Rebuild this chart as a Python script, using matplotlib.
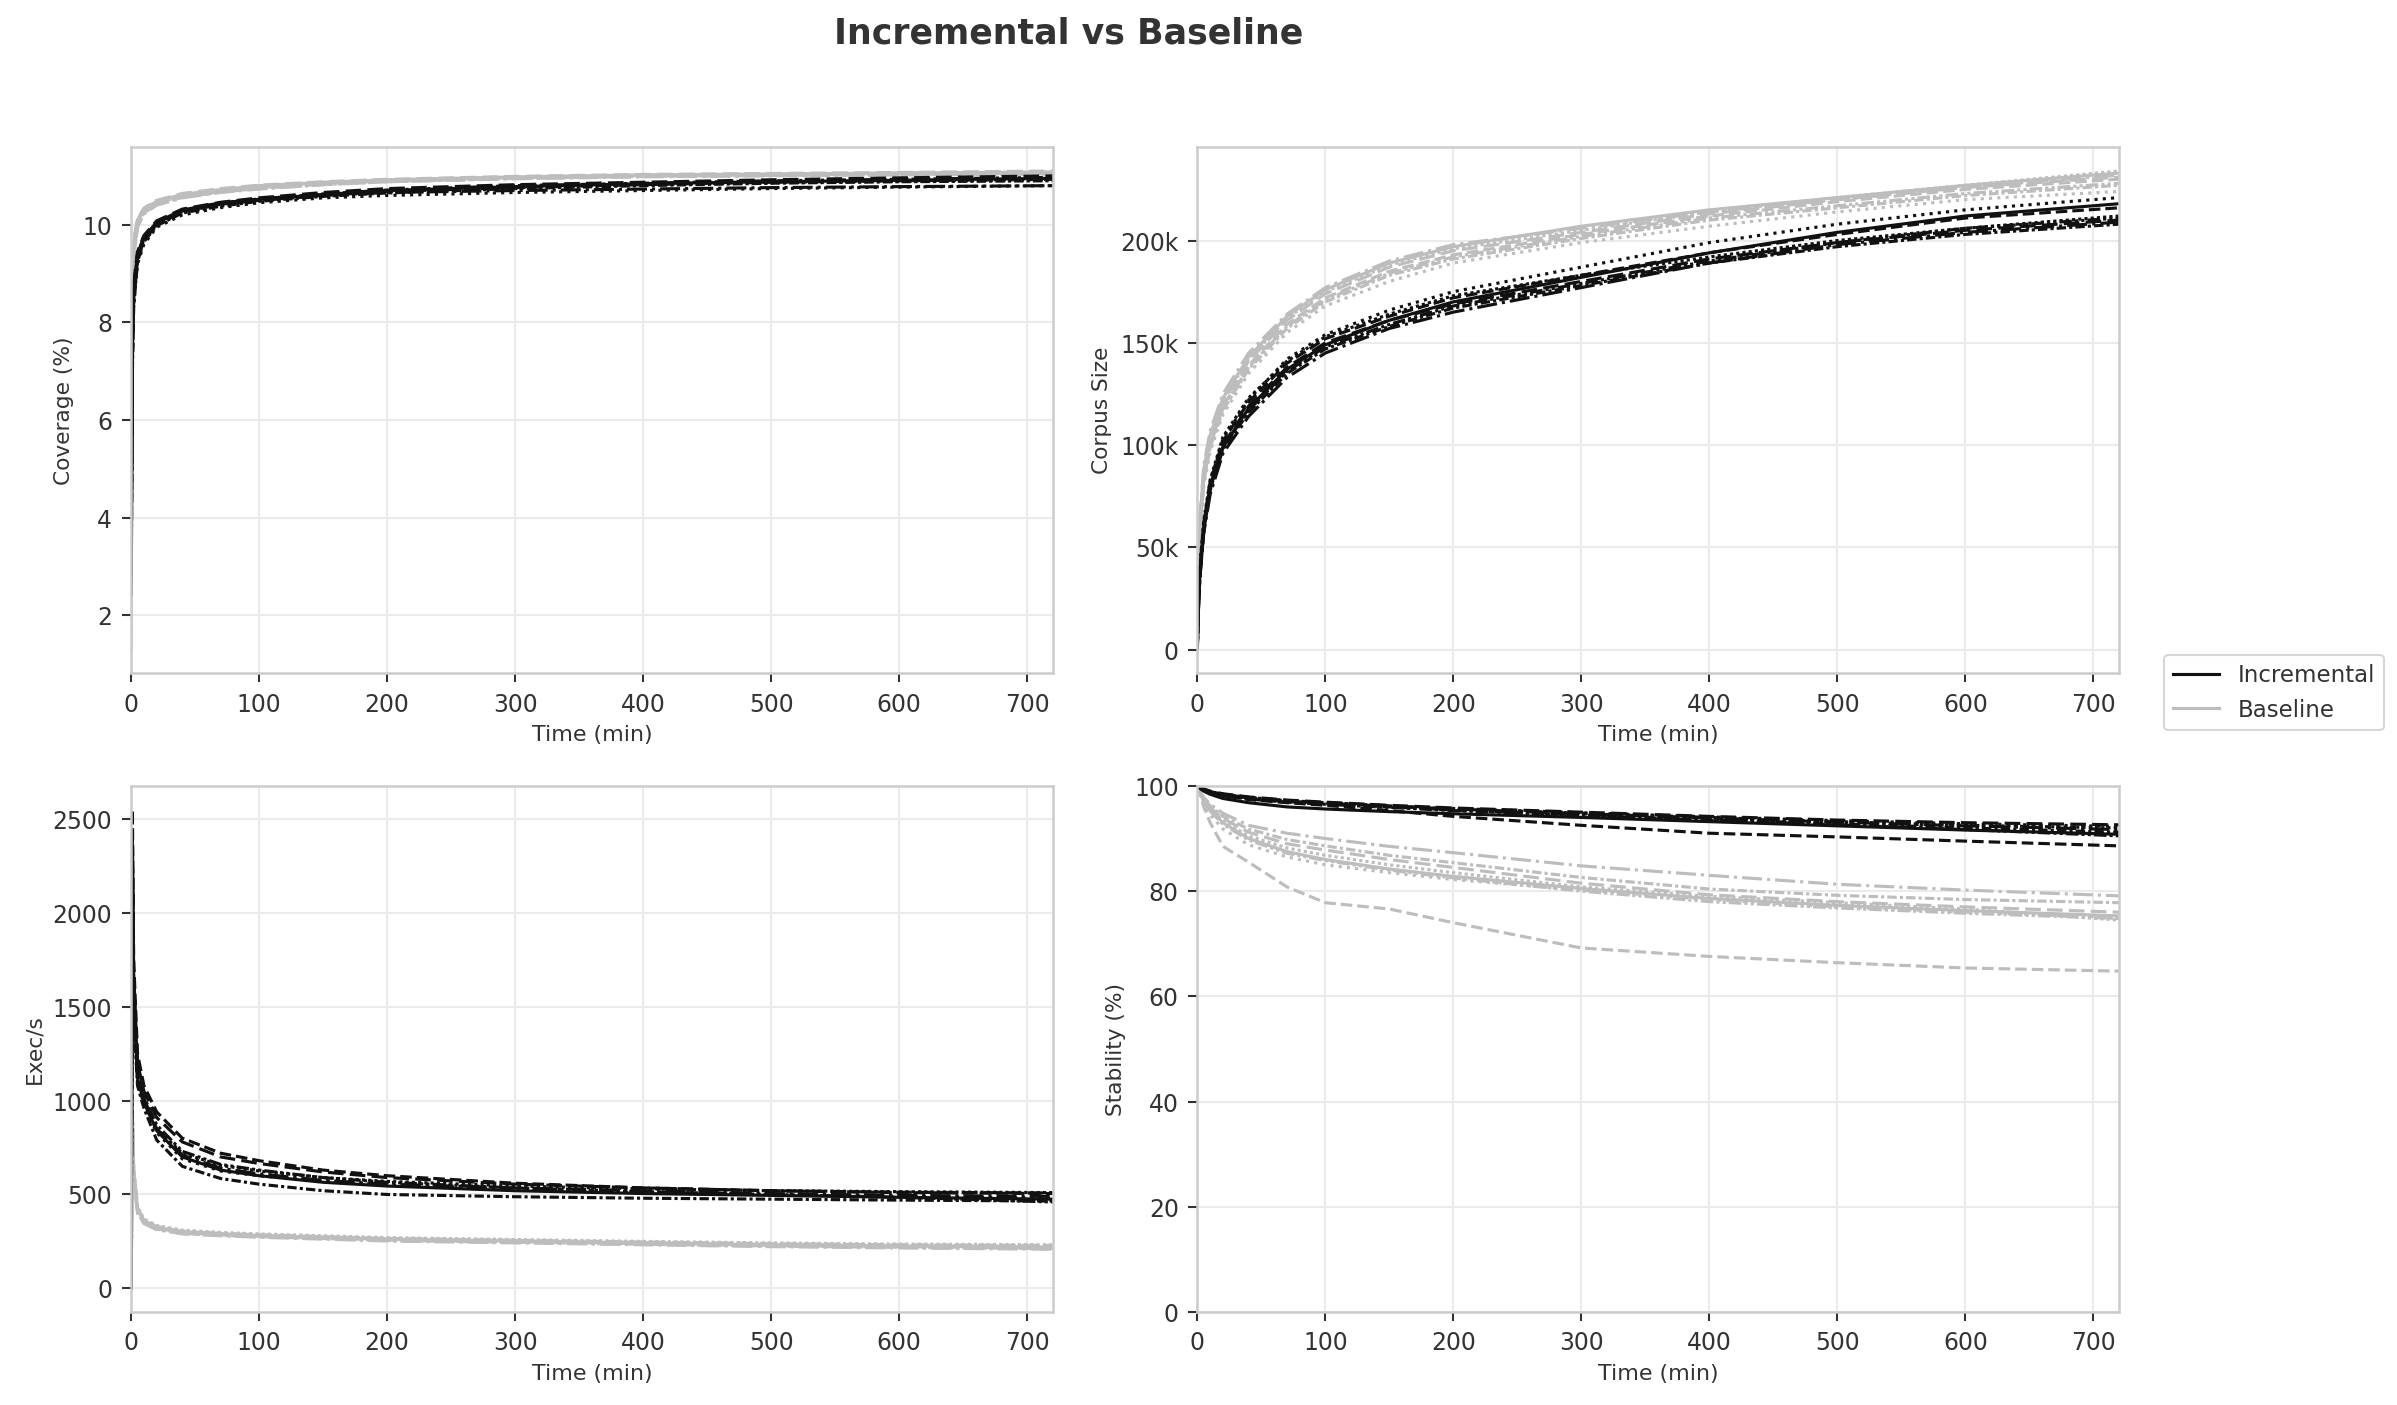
import matplotlib
matplotlib.use("Agg")
import matplotlib.pyplot as plt
from matplotlib.lines import Line2D
from matplotlib.ticker import FuncFormatter

# sample times (minutes)
times = [0, 1, 2, 5, 10, 20, 40, 70, 100, 150, 200, 300, 400, 500, 600, 720]

# Coverage (%) per run
cov_inc = [
    [3.2, 7.8, 8.7, 9.4, 9.75, 10.05, 10.3, 10.45, 10.52, 10.62, 10.7, 10.78, 10.84, 10.88, 10.91, 10.95],
    [2.6, 7.2, 8.5, 9.3, 9.68, 10.0, 10.26, 10.42, 10.5, 10.6, 10.68, 10.76, 10.82, 10.87, 10.9, 10.93],
    [3.8, 7.6, 8.4, 9.2, 9.6, 9.95, 10.2, 10.35, 10.45, 10.55, 10.6, 10.66, 10.7, 10.74, 10.77, 10.8],
    [2.9, 7.4, 8.6, 9.35, 9.72, 10.02, 10.28, 10.42, 10.5, 10.6, 10.66, 10.7, 10.73, 10.76, 10.78, 10.8],
    [3.4, 7.9, 8.8, 9.45, 9.78, 10.08, 10.32, 10.46, 10.55, 10.66, 10.74, 10.82, 10.87, 10.92, 10.96, 11.0],
    [2.4, 7.0, 8.3, 9.25, 9.65, 9.98, 10.24, 10.38, 10.48, 10.58, 10.65, 10.74, 10.8, 10.85, 10.88, 10.9],
    [3.6, 7.7, 8.6, 9.3, 9.7, 10.0, 10.27, 10.43, 10.51, 10.61, 10.69, 10.77, 10.83, 10.86, 10.89, 10.92],
    [2.8, 7.3, 8.5, 9.4, 9.74, 10.04, 10.29, 10.44, 10.53, 10.63, 10.71, 10.8, 10.85, 10.9, 10.93, 10.97],
]
cov_base = [
    [1.3, 8.9, 9.6, 10.1, 10.32, 10.48, 10.62, 10.72, 10.8, 10.87, 10.92, 10.98, 11.02, 11.04, 11.06, 11.08],
    [1.8, 8.6, 9.4, 10.0, 10.26, 10.42, 10.57, 10.68, 10.75, 10.83, 10.89, 10.95, 10.99, 11.01, 11.03, 11.05],
    [2.2, 9.0, 9.6, 10.08, 10.3, 10.46, 10.6, 10.7, 10.77, 10.85, 10.9, 10.96, 11.0, 11.03, 11.05, 11.07],
    [1.6, 8.5, 9.3, 9.95, 10.22, 10.4, 10.55, 10.66, 10.73, 10.82, 10.88, 10.94, 10.98, 11.0, 11.02, 11.04],
    [2.6, 9.1, 9.7, 10.12, 10.34, 10.5, 10.64, 10.74, 10.81, 10.88, 10.93, 10.99, 11.03, 11.05, 11.07, 11.1],
    [1.4, 8.7, 9.5, 10.04, 10.28, 10.44, 10.59, 10.69, 10.76, 10.84, 10.9, 10.96, 11.0, 11.02, 11.04, 11.06],
    [2.0, 8.8, 9.5, 10.06, 10.3, 10.46, 10.61, 10.71, 10.78, 10.86, 10.91, 10.97, 11.01, 11.03, 11.05, 11.07],
    [1.7, 8.4, 9.3, 9.98, 10.24, 10.41, 10.56, 10.67, 10.74, 10.82, 10.88, 10.95, 10.99, 11.01, 11.03, 11.05],
]

# Corpus size (thousands of entries)
corpus_inc = [
    [2, 24, 37, 58, 79, 99, 118, 137, 149, 161, 170, 182, 194, 204, 212, 218],
    [4, 27, 40, 62, 82, 102, 121, 140, 152, 163, 172, 183, 194, 203, 211, 216],
    [1, 26, 39, 61, 82, 103, 122, 142, 154, 166, 175, 187, 199, 208, 215, 221],
    [3, 22, 35, 57, 76, 96, 114, 133, 145, 157, 165, 177, 189, 198, 204, 209],
    [5, 25, 38, 60, 80, 100, 119, 138, 150, 161, 169, 180, 191, 199, 205, 210],
    [2, 23, 36, 58, 78, 98, 116, 135, 147, 158, 167, 178, 189, 197, 203, 208],
    [6, 28, 41, 63, 83, 104, 123, 141, 153, 164, 173, 183, 192, 200, 206, 212],
    [0, 24, 37, 59, 79, 99, 117, 136, 148, 159, 168, 179, 190, 199, 206, 211],
]
corpus_base = [
    [12, 48, 63, 88, 105, 123, 143, 163, 176, 189, 197, 207, 215, 221, 227, 233],
    [8, 44, 59, 84, 101, 119, 139, 159, 172, 185, 193, 203, 212, 219, 225, 230],
    [6, 40, 55, 80, 97, 115, 135, 155, 168, 180, 189, 199, 207, 214, 220, 224],
    [14, 50, 65, 90, 107, 125, 145, 164, 177, 190, 198, 206, 214, 220, 226, 232],
    [10, 46, 61, 86, 103, 121, 141, 161, 174, 187, 195, 204, 213, 220, 226, 231],
    [9, 42, 57, 82, 99, 117, 137, 157, 170, 183, 191, 201, 210, 216, 222, 227],
    [11, 47, 62, 87, 104, 122, 142, 162, 175, 188, 196, 205, 214, 221, 227, 234],
    [7, 43, 58, 83, 100, 118, 138, 158, 171, 184, 192, 202, 211, 217, 223, 228],
]

# Exec/s
execs_inc = [
    [0, 2300, 1550, 1120, 990, 840, 700, 630, 600, 565, 545, 520, 505, 495, 485, 475],
    [0, 2550, 1750, 1250, 1080, 940, 800, 720, 680, 630, 600, 560, 535, 520, 510, 505],
    [0, 2100, 1500, 1100, 980, 830, 690, 625, 600, 570, 550, 525, 510, 500, 490, 480],
    [0, 2200, 1600, 1150, 1010, 850, 710, 640, 610, 575, 555, 535, 520, 505, 495, 490],
    [0, 2400, 1680, 1200, 1050, 910, 780, 700, 665, 620, 590, 555, 535, 520, 512, 508],
    [0, 2000, 1450, 1080, 960, 790, 650, 585, 555, 520, 500, 488, 480, 475, 470, 465],
    [0, 2250, 1580, 1140, 1000, 850, 720, 655, 625, 590, 570, 545, 530, 520, 515, 510],
    [0, 2350, 1620, 1160, 1020, 870, 730, 660, 630, 590, 565, 535, 515, 500, 485, 460],
]
execs_base = [
    [0, 900, 620, 420, 360, 325, 300, 290, 282, 272, 262, 252, 242, 232, 226, 220],
    [0, 850, 600, 410, 350, 318, 295, 285, 278, 268, 258, 248, 238, 228, 222, 215],
    [0, 950, 640, 430, 365, 330, 305, 294, 286, 275, 265, 255, 245, 236, 230, 225],
    [0, 800, 580, 400, 345, 312, 290, 280, 272, 262, 252, 242, 232, 222, 215, 208],
    [0, 920, 630, 425, 362, 328, 303, 292, 285, 275, 266, 256, 247, 238, 232, 228],
    [0, 870, 610, 415, 355, 320, 297, 287, 280, 270, 260, 250, 240, 230, 224, 218],
    [0, 960, 650, 435, 370, 335, 310, 298, 290, 280, 270, 260, 250, 242, 236, 232],
    [0, 830, 590, 405, 348, 315, 292, 282, 275, 265, 255, 245, 235, 225, 218, 212],
]

# Stability (%)
stab_inc = [
    [100, 99.8, 99.5, 99.0, 98.4, 97.6, 96.8, 96.0, 95.6, 95.1, 94.7, 94.0, 93.2, 92.4, 91.6, 90.8],
    [100, 99.8, 99.6, 99.2, 98.8, 98.2, 97.4, 96.8, 96.3, 95.3, 94.2, 92.5, 91.0, 90.3, 89.5, 88.6],
    [100, 99.9, 99.7, 99.3, 98.9, 98.4, 97.8, 97.2, 96.8, 96.2, 95.7, 94.9, 94.1, 93.4, 92.8, 92.3],
    [100, 99.9, 99.7, 99.3, 98.9, 98.3, 97.7, 97.1, 96.7, 96.1, 95.6, 94.7, 93.9, 93.1, 92.4, 91.7],
    [100, 99.9, 99.8, 99.4, 99.0, 98.5, 97.9, 97.3, 96.9, 96.3, 95.8, 95.0, 94.2, 93.5, 93.0, 92.6],
    [100, 99.9, 99.7, 99.2, 98.8, 98.2, 97.6, 97.0, 96.6, 96.0, 95.4, 94.5, 93.6, 92.8, 92.0, 91.2],
    [100, 99.9, 99.7, 99.3, 98.9, 98.4, 97.8, 97.2, 96.8, 96.2, 95.6, 94.8, 94.0, 93.2, 92.5, 92.0],
    [100, 99.9, 99.6, 99.1, 98.7, 98.1, 97.5, 96.9, 96.5, 95.9, 95.3, 94.4, 93.5, 92.6, 91.7, 90.5],
]
stab_base = [
    [100, 99.5, 98.8, 97.0, 95.5, 93.0, 90.0, 87.5, 86.0, 84.2, 82.8, 80.5, 78.6, 77.3, 76.3, 75.3],
    [100, 99.3, 98.5, 96.0, 93.0, 88.5, 85.5, 80.8, 77.8, 76.6, 74.0, 69.2, 67.6, 66.4, 65.4, 64.8],
    [100, 99.4, 98.6, 96.5, 94.5, 91.8, 88.8, 86.5, 85.0, 83.5, 82.2, 80.2, 78.4, 77.0, 76.0, 75.0],
    [100, 99.6, 99.0, 97.8, 96.5, 94.8, 92.5, 91.0, 90.0, 88.5, 87.3, 84.8, 83.0, 81.3, 80.2, 79.1],
    [100, 99.5, 98.9, 97.3, 95.9, 93.8, 91.2, 89.0, 87.8, 86.0, 84.5, 81.5, 79.3, 78.0, 77.0, 76.0],
    [100, 99.6, 99.0, 97.5, 96.2, 94.2, 91.8, 89.8, 88.6, 86.8, 85.4, 82.6, 80.4, 79.2, 78.4, 77.8],
    [100, 99.5, 98.8, 97.1, 95.6, 93.3, 90.5, 88.2, 86.8, 85.0, 83.5, 80.8, 79.0, 77.8, 76.6, 74.5],
    [100, 99.4, 98.7, 96.8, 95.2, 92.7, 89.7, 87.2, 85.8, 84.0, 82.5, 80.0, 78.0, 76.8, 75.8, 74.8],
]

INC_COLOR = "#111111"
BASE_COLOR = "#bdbdbd"
styles = ["-", "--", ":", "-.", (0, (5, 2)), (0, (3, 1, 1, 1)), (0, (1, 1)), (0, (4, 1, 1, 1, 1, 1))]

plt.rcParams.update({
    "font.family": "DejaVu Sans",
    "axes.edgecolor": "#cccccc",
    "axes.linewidth": 1.2,
    "axes.labelcolor": "#333333",
    "xtick.color": "#333333",
    "ytick.color": "#333333",
    "grid.color": "#ebebeb",
    "grid.linewidth": 1.0,
})

fig, axes = plt.subplots(2, 2, figsize=(15.98, 9.37), dpi=150)
fig.subplots_adjust(left=0.0547, right=0.884, top=0.895, bottom=0.066,
                    wspace=0.157, hspace=0.2135)

panels = [
    (axes[0, 0], cov_inc, cov_base, "Coverage (%)"),
    (axes[0, 1], corpus_inc, corpus_base, "Corpus Size"),
    (axes[1, 0], execs_inc, execs_base, "Exec/s"),
    (axes[1, 1], stab_inc, stab_base, "Stability (%)"),
]

for ax, inc, base, label in panels:
    for i, run in enumerate(base):
        ax.plot(times, run, color=BASE_COLOR, linestyle=styles[i % len(styles)], linewidth=1.5)
    for i, run in enumerate(inc):
        ax.plot(times, run, color=INC_COLOR, linestyle=styles[i % len(styles)], linewidth=1.5)
    ax.set_xlim(0, 720)
    ax.set_xlabel("Time (min)", fontsize=10.6)
    ax.set_ylabel(label, fontsize=10.4)
    ax.grid(True)
    ax.set_axisbelow(True)
    ax.tick_params(labelsize=11.3, length=4.5, width=1, pad=4.5)

axes[0, 1].yaxis.set_major_formatter(FuncFormatter(lambda v, p: "0" if v == 0 else f"{v:.0f}k"))
axes[1, 1].set_ylim(0, 100)

fig.suptitle("Incremental vs Baseline", fontsize=16.7, fontweight="bold", color="#333333",
             x=0.446, y=0.988)

handles = [Line2D([0], [0], color=INC_COLOR, lw=1.5),
           Line2D([0], [0], color=BASE_COLOR, lw=1.5)]
leg = fig.legend(handles, ["Incremental", "Baseline"], loc="center left",
                 bbox_to_anchor=(0.898, 0.507), fontsize=11, frameon=True)
leg.get_frame().set_edgecolor("#cccccc")
for t in leg.get_texts():
    t.set_color("#333333")

fig.savefig("out.png", dpi=150)
